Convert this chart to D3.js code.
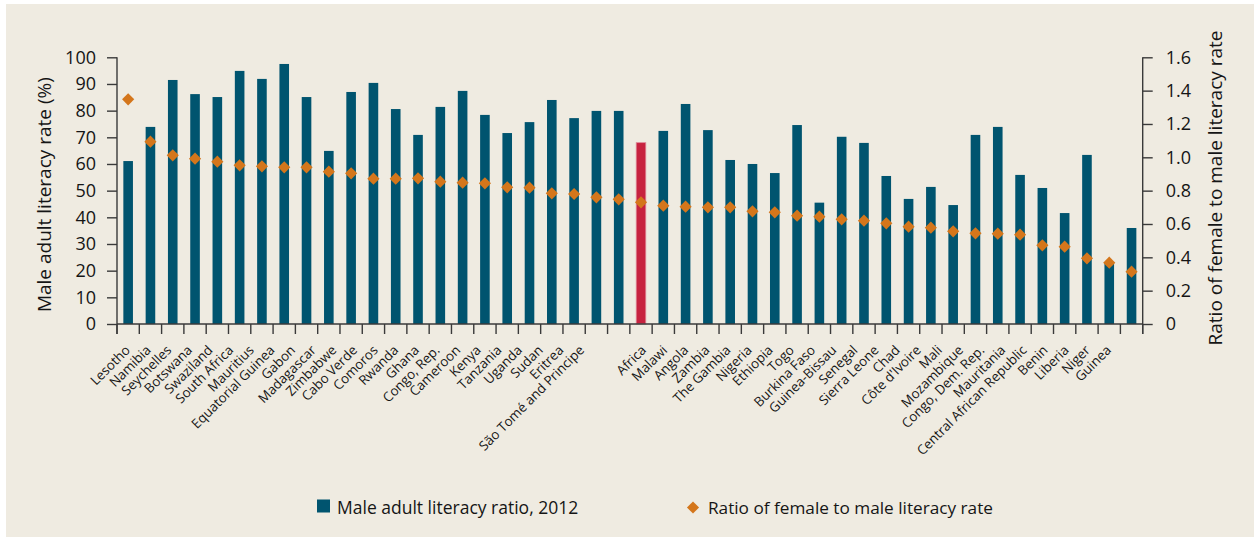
<!DOCTYPE html>
<html>
<head>
<meta charset="utf-8">
<script src="https://cdn.jsdelivr.net/npm/d3@7"></script>
<style>
  html, body { margin: 0; padding: 0; background: #ffffff; }
  svg { display: block; }
  text { font-family: "Open Sans", "Noto Sans", sans-serif; fill: #151515; }
</style>
</head>
<body>
<svg id="chart" width="1258" height="540"></svg>
<script>
const categories = ["Lesotho","Namibia","Seychelles","Botswana","Swaziland","South Africa","Mauritius","Equatorial Guinea","Gabon","Madagascar","Zimbabwe","Cabo Verde","Comoros","Rwanda","Ghana","Congo, Rep.","Cameroon","Kenya","Tanzania","Uganda","Sudan","Eritrea","São Tomé and Principe","Africa","Malawi","Angola","Zambia","The Gambia","Nigeria","Ethiopia","Togo","Burkina Faso","Guinea-Bissau","Senegal","Sierra Leone","Chad","Côte d'Ivoire","Mali","Mozambique","Congo, Dem. Rep.","Mauritania","Central African Republic","Benin","Liberia","Niger","Guinea"];
const maleLiteracy = [61.1,73.9,91.5,86.2,85.1,94.9,91.9,97.5,85.1,64.9,87.0,90.4,80.6,70.9,81.4,87.4,78.4,71.6,75.7,84.0,77.2,79.9,79.9,68.0,72.4,82.5,72.7,61.5,60.0,56.6,74.6,45.5,70.2,67.9,55.5,46.9,51.4,44.6,70.9,73.9,55.9,51.0,41.6,63.4,23.2,36.0];
const femaleToMaleRatio = [1.348,1.094,1.012,0.992,0.974,0.952,0.946,0.940,0.940,0.914,0.904,0.872,0.872,0.874,0.854,0.848,0.844,0.820,0.818,0.784,0.780,0.760,0.748,0.730,0.710,0.704,0.700,0.700,0.676,0.670,0.650,0.644,0.628,0.620,0.604,0.584,0.578,0.556,0.544,0.542,0.536,0.472,0.464,0.394,0.368,0.314];
const leftTicks = [0,10,20,30,40,50,60,70,80,90,100];
const rightTicks = [0,0.2,0.4,0.6,0.8,1.0,1.2,1.4,1.6];
const rightTickLabels = ["0","0.2","0.4","0.6","0.8","1.0","1.2","1.4","1.6"];
const highlight = "Africa";
const legendLabels = ["Male adult literacy ratio, 2012","Ratio of female to male literacy rate"];

const svg = d3.select("#chart");
const barColor = "#00546f", hiColor = "#c7223f", dotColor = "#d4761b", axisColor = "#3a3a3a";

svg.append("rect").attr("x",6).attr("y",4).attr("width",1248).attr("height",533).attr("fill","#efebe1");

const pLeft = 117, pRight = 1142.7, pTop = 57.3, pBottom = 324;
const x = d3.scaleBand().domain(categories).range([pLeft, pRight]).padding(0);
const yL = d3.scaleLinear().domain([0,100]).range([pBottom, pTop]);
const yR = d3.scaleLinear().domain([0,1.6]).range([pBottom, pTop]);
// category labels in the original are set slightly off the bar grid (two runs)
const labelX = d3.scaleLinear().domain([0,22,23,45]).range([131,585,647,1112]);
const bw = 9.6;

// bars
svg.append("g").selectAll("rect").data(categories).join("rect")
  .attr("x", d => x(d) + x.bandwidth()/2 - bw/2)
  .attr("y", (d,i) => yL(maleLiteracy[i]))
  .attr("width", bw)
  .attr("height", (d,i) => yL(0) - yL(maleLiteracy[i]))
  .attr("fill", d => d === highlight ? hiColor : barColor)
  .attr("stroke", d => d === highlight ? "#e08a9a" : "none")
  .attr("stroke-width", 0.8);

// axes
const axL = svg.append("g").attr("transform", `translate(${pLeft},0)`)
  .call(d3.axisLeft(yL).tickValues(leftTicks).tickSize(10).tickPadding(11).tickFormat(d3.format("d")));
const axR = svg.append("g").attr("transform", `translate(${pRight},0)`)
  .call(d3.axisRight(yR).tickValues(rightTicks).tickSize(10).tickPadding(13).tickFormat((d,i) => rightTickLabels[i]));
const axB = svg.append("g").attr("transform", `translate(0,${pBottom})`)
  .call(d3.axisBottom(x).tickSize(0).tickFormat(""));
[axL, axR, axB].forEach(g => {
  g.select(".domain").attr("stroke", axisColor).attr("stroke-width", 1.4);
  g.selectAll(".tick line").attr("stroke", axisColor).attr("stroke-width", 1.4);
  g.selectAll(".tick text").attr("font-size", 18).attr("fill", "#151515").style("font-family", '"Open Sans", sans-serif');
});
axL.select(".domain").attr("d", `M0,${pTop}V${pBottom+10}`);
axR.select(".domain").attr("d", `M0,${pTop}V${pBottom+10}`);
axB.select(".domain").attr("d", `M${pLeft},0H${pRight}`);

// bottom ticks at band boundaries
const bounds = categories.map(d => x(d)).concat([pRight]);
svg.append("g").selectAll("line").data(bounds).join("line")
  .attr("x1", d => d).attr("x2", d => d)
  .attr("y1", pBottom).attr("y2", pBottom + 10)
  .attr("stroke", axisColor).attr("stroke-width", 1.4);

// category labels
svg.append("g").selectAll("text").data(categories).join("text")
  .attr("transform", (d,i) => `translate(${labelX(i)},${pBottom + 27}) rotate(-45)`)
  .attr("text-anchor", "end")
  .attr("font-size", 13.3)
  .text(d => d);

// diamonds
const diamond = d3.symbol().type(d3.symbolSquare).size(74);
svg.append("g").selectAll("path").data(categories).join("path")
  .attr("d", diamond)
  .attr("transform", (d,i) => `translate(${x(d) + x.bandwidth()/2},${yR(femaleToMaleRatio[i])}) rotate(45)`)
  .attr("fill", dotColor);

// axis titles
svg.append("text").attr("transform", `translate(51,${(pTop+pBottom)/2 + 4}) rotate(-90)`)
  .attr("text-anchor", "middle").attr("font-size", 19).text("Male adult literacy rate (%)");
svg.append("text").attr("transform", `translate(1222,188) rotate(-90)`)
  .attr("text-anchor", "middle").attr("font-size", 19).text("Ratio of female to male literacy rate");

// legend
const lg = svg.append("g");
lg.append("rect").attr("x", 317).attr("y", 499.5).attr("width", 13).attr("height", 13).attr("fill", barColor);
lg.append("text").attr("x", 337).attr("y", 513.5).attr("font-size", 17.5).text(legendLabels[0]);
lg.append("path").attr("d", diamond).attr("transform", "translate(693,507.5) rotate(45)").attr("fill", dotColor);
lg.append("text").attr("x", 708).attr("y", 513.5).attr("font-size", 17.2).text(legendLabels[1]);
</script>
</body>
</html>
